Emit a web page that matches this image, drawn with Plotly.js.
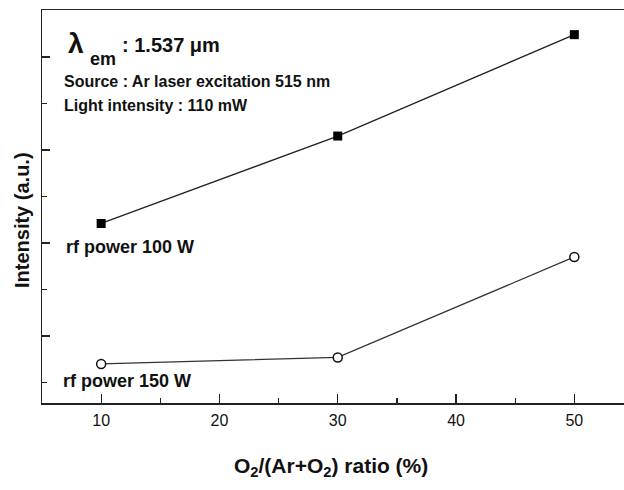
<!DOCTYPE html>
<html>
<head>
<meta charset="utf-8">
<script src="https://cdn.plot.ly/plotly-3.0.1.min.js"></script>
<style>html,body{margin:0;padding:0;background:#fff;}#chart{width:624px;height:490px;}</style>
</head>
<body>
<div id="chart"></div>
<script>
// Data
const ratio = [10, 30, 50];
const power100W = [2.21, 3.15, 4.24];
const power150W = [0.70, 0.77, 1.85];
const xTickVals = [10, 20, 30, 40, 50];
const xTickText = ['10', '20', '30', '40', '50'];

const W = 624, H = 490;
const M = {l: 42, r: 0, t: 10, b: 87};
const pw = W - M.l - M.r, ph = H - M.t - M.b;
const px = x => (x - M.l) / pw;
const py = y => (H - M.b - y) / ph;
const FONT = 'Liberation Sans, Arial, sans-serif';

const traces = [
  {
    x: ratio, y: power100W, type: 'scatter', mode: 'lines+markers',
    line: {color: '#222', width: 1.3},
    marker: {symbol: 'square', size: 9, color: '#000'},
    showlegend: false
  },
  {
    x: ratio, y: power150W, type: 'scatter', mode: 'lines+markers',
    line: {color: '#333', width: 1.3},
    marker: {symbol: 'circle', size: 9, color: '#fff', line: {color: '#111', width: 1.5}},
    showlegend: false
  }
];

function ann(text, x, y, size, opts) {
  return Object.assign({
    text: text, xref: 'paper', yref: 'paper', x: px(x), y: py(y),
    xanchor: 'left', yanchor: 'middle', showarrow: false,
    font: {family: FONT, size: size, color: '#111', weight: 'bold'}
  }, opts || {});
}

const annotations = [
  ann('λ', 66, 43, 28),
  ann('em', 88, 59, 18),
  ann(': 1.537 μm', 120, 45, 20),
  ann('Source : Ar laser excitation 515 nm', 62, 82, 16),
  ann('Light intensity : 110 mW', 62, 106, 16),
  ann('rf power 100 W', 64, 247, 18),
  ann('rf power 150 W', 61, 381, 18),
  ann('Intensity (a.u.)', 22, 220, 20, {textangle: -90, xanchor: 'center'}),
  ann('O<sub>2</sub>/(Ar+O<sub>2</sub>) ratio (%)', 331, 467, 21, {xanchor: 'center'})
];

const layout = {
  width: W, height: H,
  margin: M,
  paper_bgcolor: '#fff', plot_bgcolor: '#fff',
  font: {family: FONT, color: '#111'},
  xaxis: {
    range: [5, 54.2], showgrid: false, zeroline: false,
    showline: true, linecolor: '#222', linewidth: 1.5, mirror: true,
    ticks: 'inside', ticklen: 9, tickwidth: 1.3, tickcolor: '#222',
    tickvals: xTickVals, ticktext: xTickText,
    tickfont: {family: FONT, size: 16, color: '#111'},
    ticklabelstandoff: 2,
    minor: {tickvals: [5, 15, 25, 35, 45], ticks: 'inside', ticklen: 5, tickwidth: 1.3, tickcolor: '#222'}
  },
  yaxis: {
    range: [0.28, 4.505], showgrid: false, zeroline: false,
    showline: true, linecolor: '#222', linewidth: 1.5,
    ticks: 'inside', ticklen: 8, tickwidth: 1.3, tickcolor: '#222',
    dtick: 1, tick0: 0, showticklabels: false,
    minor: {dtick: 0.5, ticks: 'inside', ticklen: 5, tickwidth: 1.3, tickcolor: '#222'}
  },
  annotations: annotations
};

Plotly.newPlot('chart', traces, layout, {staticPlot: true, displayModeBar: false});
</script>
</body>
</html>
